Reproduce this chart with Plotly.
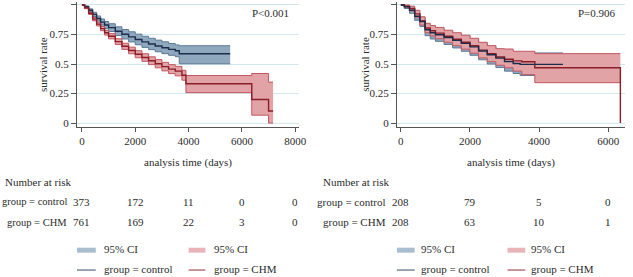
import plotly.graph_objects as go

# ---------------- data ----------------
# Left panel
L_ctrl_t  = [0, 100, 250, 400, 550, 700, 850, 1000, 1250, 1500, 1750, 2000, 2250, 2500, 2750, 3000, 3250, 3500, 3650, 5560]
L_ctrl_s  = [1, 0.985, 0.955, 0.92, 0.885, 0.855, 0.83, 0.808, 0.778, 0.752, 0.73, 0.708, 0.688, 0.67, 0.653, 0.638, 0.624, 0.612, 0.587, 0.587]
L_ctrl_lo = [1, 0.978, 0.943, 0.902, 0.863, 0.829, 0.8, 0.775, 0.741, 0.712, 0.687, 0.663, 0.641, 0.622, 0.604, 0.588, 0.574, 0.562, 0.502, 0.502]
L_ctrl_hi = [1, 0.992, 0.967, 0.938, 0.907, 0.881, 0.86, 0.841, 0.815, 0.792, 0.773, 0.753, 0.735, 0.718, 0.702, 0.688, 0.674, 0.662, 0.655, 0.655]

L_chm_t  = [0, 100, 250, 400, 550, 700, 850, 1000, 1250, 1500, 1750, 2000, 2250, 2500, 2750, 3000, 3250, 3500, 3750, 3900, 6370, 7000, 7170]
L_chm_s  = [1, 0.975, 0.93, 0.88, 0.838, 0.8, 0.765, 0.735, 0.69, 0.65, 0.615, 0.583, 0.555, 0.528, 0.503, 0.478, 0.457, 0.44, 0.405, 0.333, 0.2, 0.103, 0.103]
L_chm_lo = [1, 0.969, 0.92, 0.866, 0.822, 0.782, 0.745, 0.713, 0.666, 0.624, 0.587, 0.553, 0.523, 0.495, 0.468, 0.442, 0.419, 0.4, 0.363, 0.258, 0.067, 0.0, 0.0]
L_chm_hi = [1, 0.981, 0.94, 0.894, 0.854, 0.818, 0.785, 0.757, 0.714, 0.676, 0.643, 0.613, 0.587, 0.561, 0.538, 0.514, 0.495, 0.48, 0.447, 0.403, 0.42, 0.347, 0.347]

# Right panel
R_ctrl_t  = [0, 100, 250, 400, 550, 700, 850, 1000, 1250, 1500, 1750, 2000, 2250, 2500, 2750, 3000, 3250, 3450, 4690]
R_ctrl_s  = [1, 0.985, 0.955, 0.905, 0.86, 0.79, 0.765, 0.748, 0.725, 0.7, 0.675, 0.645, 0.61, 0.578, 0.55, 0.522, 0.505, 0.497, 0.497]
R_ctrl_lo = [1, 0.97, 0.93, 0.87, 0.818, 0.74, 0.712, 0.692, 0.665, 0.636, 0.608, 0.574, 0.536, 0.5, 0.47, 0.44, 0.42, 0.403, 0.403]
R_ctrl_hi = [1, 0.995, 0.975, 0.935, 0.895, 0.835, 0.812, 0.798, 0.778, 0.756, 0.735, 0.708, 0.677, 0.648, 0.624, 0.598, 0.59, 0.594, 0.594]

R_chm_t  = [0, 100, 250, 400, 550, 700, 850, 1000, 1250, 1500, 1750, 2000, 2250, 2500, 2750, 3000, 3250, 3500, 3876, 6352]
R_chm_s  = [1, 0.99, 0.97, 0.925, 0.865, 0.805, 0.782, 0.762, 0.735, 0.71, 0.685, 0.655, 0.618, 0.588, 0.56, 0.54, 0.527, 0.52, 0.468, 0.0]
R_chm_lo = [1, 0.98, 0.95, 0.896, 0.83, 0.765, 0.738, 0.714, 0.684, 0.655, 0.626, 0.592, 0.552, 0.52, 0.49, 0.468, 0.44, 0.41, 0.342, 0.342]
R_chm_hi = [1, 1.0, 0.99, 0.955, 0.9, 0.845, 0.826, 0.81, 0.786, 0.765, 0.744, 0.718, 0.684, 0.656, 0.63, 0.627, 0.608, 0.608, 0.588, 0.588]

L_ticks = [0, 2000, 4000, 6000, 8000]
R_ticks = [0, 2000, 4000, 6000]
L_risk_ctrl = [373, 172, 11, 0, 0]
L_risk_chm = [761, 169, 22, 3, 0]
R_risk_ctrl = [208, 79, 5, 0]
R_risk_chm = [208, 63, 10, 1]
y_ticks = [0, 0.25, 0.5, 0.75, 1]
y_ticktext = ["0", "0.25", "0.5", "0.75", "1"]
p_texts = ["P<0.001", "P=0.906"]

# ---------------- styling ----------------
W, H = 633, 277
FONT = "Liberation Serif, Times New Roman, serif"
TXT = "#2b2b2b"
BLUE_FILL = "rgb(143,168,190)"
BLUE_EDGE = "rgb(92,122,150)"
BLUE_LINE = "rgb(28,45,75)"
RED_FILL = "rgb(226,163,167)"
RED_EDGE = "rgb(196,86,96)"
RED_LINE = "rgb(140,28,38)"
GRID = "rgb(210,232,238)"


def py(p):
    return 1 - p / H


def px(p):
    return p / W


fig = go.Figure()


def band(t, lo, hi, fill, edge, xa, ya):
    fig.add_trace(go.Scatter(x=t, y=lo, mode="lines", line=dict(color=edge, width=1, shape="hv"),
                             xaxis=xa, yaxis=ya, showlegend=False, hoverinfo="skip"))
    fig.add_trace(go.Scatter(x=t, y=hi, mode="lines", line=dict(color=edge, width=1, shape="hv"),
                             fill="tonexty", fillcolor=fill,
                             xaxis=xa, yaxis=ya, showlegend=False, hoverinfo="skip"))


def curve(t, s, color, xa, ya):
    fig.add_trace(go.Scatter(x=t, y=s, mode="lines", line=dict(color=color, width=1.4, shape="hv"),
                             xaxis=xa, yaxis=ya, showlegend=False))


band(L_ctrl_t, L_ctrl_lo, L_ctrl_hi, BLUE_FILL, BLUE_EDGE, "x", "y")
band(L_chm_t, L_chm_lo, L_chm_hi, RED_FILL, RED_EDGE, "x", "y")
curve(L_ctrl_t, L_ctrl_s, BLUE_LINE, "x", "y")
curve(L_chm_t, L_chm_s, RED_LINE, "x", "y")

band(R_ctrl_t, R_ctrl_lo, R_ctrl_hi, BLUE_FILL, BLUE_EDGE, "x2", "y2")
band(R_chm_t, R_chm_lo, R_chm_hi, RED_FILL, RED_EDGE, "x2", "y2")
curve(R_chm_t, R_chm_s, RED_LINE, "x2", "y2")
curve(R_ctrl_t, R_ctrl_s, BLUE_LINE, "x2", "y2")

ydom = [py(128), py(2)]
yrange = [-4 / 119, 1 + 3 / 119]

common_x = dict(showgrid=False, zeroline=False, showline=True, linecolor="#555", linewidth=1,
                ticks="outside", ticklen=4, tickcolor="#555",
                tickfont=dict(family=FONT, size=11, color=TXT))
common_y = dict(showgrid=True, gridcolor=GRID, gridwidth=1, zeroline=False, showline=True,
                linecolor="#555", linewidth=1, ticks="outside", ticklen=5, tickcolor="#555",
                tickvals=y_ticks, ticktext=y_ticktext, range=yrange, domain=ydom,
                tickfont=dict(family=FONT, size=11, color=TXT))

fig.update_layout(
    width=W, height=H, margin=dict(l=0, r=0, t=0, b=0),
    paper_bgcolor="white", plot_bgcolor="white", showlegend=False,
    xaxis=dict(domain=[px(78), px(303)], range=[-185, 8148], tickvals=L_ticks, anchor="y", **common_x),
    yaxis=dict(anchor="x", **common_y),
    xaxis2=dict(domain=[px(402), 1.0], range=[-114, 6486], tickvals=R_ticks, anchor="y2", **common_x),
    yaxis2=dict(anchor="x2", **common_y),
)

ann = []
shapes = []


def txt(x, y, s, xref="paper", xanchor="center", angle=0, size=11):
    ann.append(dict(x=x, y=y, xref=xref, yref="paper", text=s, showarrow=False,
                    xanchor=xanchor, yanchor="middle", textangle=angle,
                    font=dict(family=FONT, size=size, color=TXT)))


# axis titles
txt(px(190.5), py(164), "analysis time (days)")
txt(px(517.5), py(164), "analysis time (days)")
txt(px(43), py(65), "survival rate", angle=-90)
txt(px(369), py(65), "survival rate", angle=-90)
# p values
txt(px(274), py(13), p_texts[0])
txt(px(605), py(13), p_texts[1])

# risk tables
txt(px(3), py(183), "Number at risk", xanchor="left")
txt(px(70), py(203), "group = control", xanchor="right", size=10.5)
txt(px(70), py(224), "group = CHM", xanchor="right", size=10.5)
for t, a, b in zip(L_ticks, L_risk_ctrl, L_risk_chm):
    txt(t, py(203), str(a), xref="x")
    txt(t, py(224), str(b), xref="x")

txt(px(325), py(183), "Number at risk", xanchor="left")
txt(px(393), py(203), "group = control", xanchor="right")
txt(px(393), py(224), "group = CHM", xanchor="right")
for t, a, b in zip(R_ticks, R_risk_ctrl, R_risk_chm):
    txt(t, py(203), str(a), xref="x2")
    txt(t, py(224), str(b), xref="x2")

# legends
LEG_BLUE_SW = "rgb(168,190,207)"
LEG_RED_SW = "rgb(232,180,184)"
LEG_BLUE_LN = "rgb(85,105,130)"
LEG_RED_LN = "rgb(165,80,88)"
for (bx0, bx1, btx, rx0, rx1, rtx) in [(78, 97, 103, 191, 208, 215), (402, 420, 424, 514, 532, 536)]:
    shapes.append(dict(type="rect", xref="paper", yref="paper", x0=px(bx0), x1=px(bx1),
                       y0=py(254.5), y1=py(249.5), fillcolor=LEG_BLUE_SW, line=dict(width=0)))
    shapes.append(dict(type="rect", xref="paper", yref="paper", x0=px(rx0), x1=px(rx1),
                       y0=py(254.5), y1=py(249.5), fillcolor=LEG_RED_SW, line=dict(width=0)))
    shapes.append(dict(type="line", xref="paper", yref="paper", x0=px(bx0), x1=px(bx1),
                       y0=py(272), y1=py(272), line=dict(color=LEG_BLUE_LN, width=1.2)))
    shapes.append(dict(type="line", xref="paper", yref="paper", x0=px(rx0), x1=px(rx1),
                       y0=py(272), y1=py(272), line=dict(color=LEG_RED_LN, width=1.2)))
    txt(px(btx), py(251), "95% CI", xanchor="left")
    txt(px(rtx), py(251), "95% CI", xanchor="left")
    txt(px(btx), py(271), "group = control", xanchor="left")
    txt(px(rtx), py(271), "group = CHM", xanchor="left")

fig.update_layout(annotations=ann, shapes=shapes)
fig.write_html("out.html", config={"displayModeBar": False},
               post_script="document.body.style.margin='0';document.body.style.overflow='hidden';")
